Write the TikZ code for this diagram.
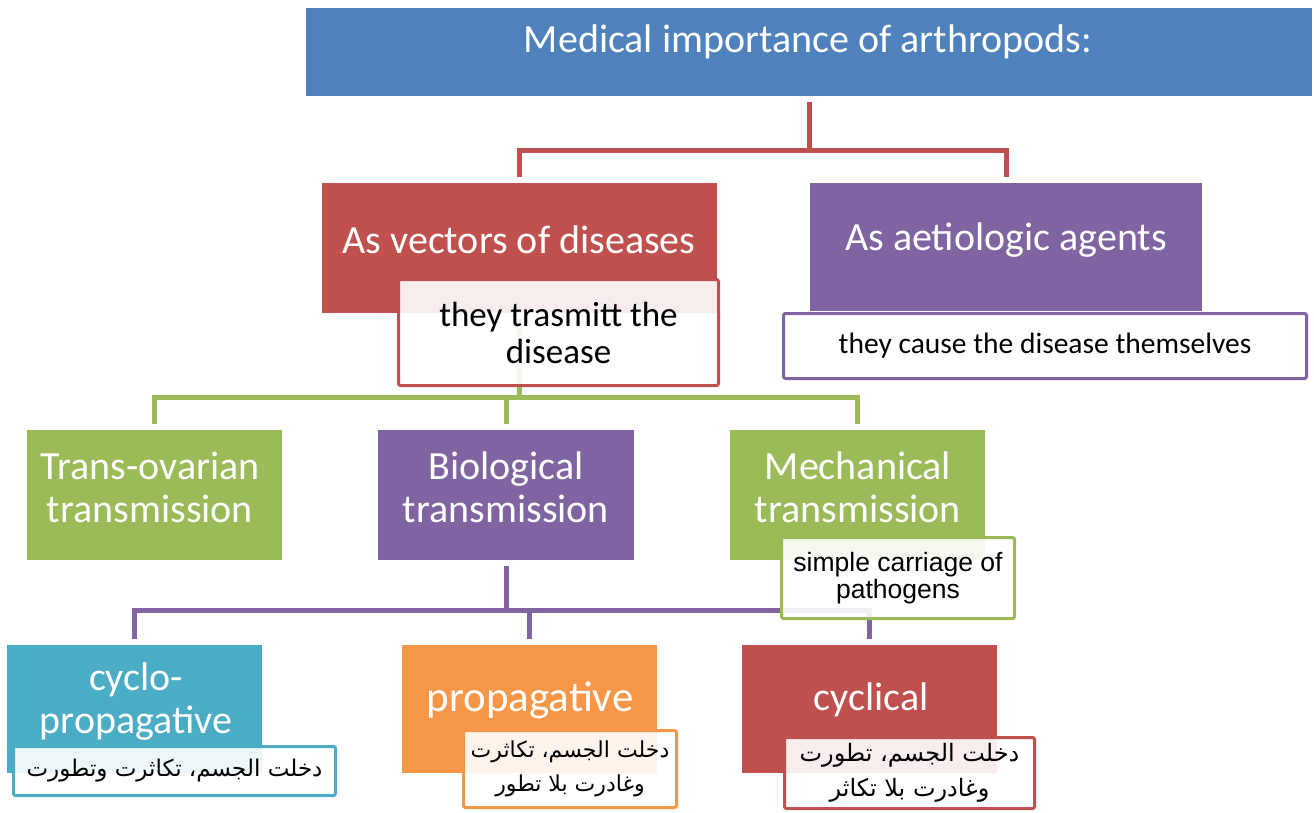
\documentclass[tikz,border=0pt]{standalone}
\usepackage{fontspec}
\setmainfont{Carlito}
\newfontfamily\arialfont{Liberation Sans}
\newfontfamily\arabicfont[Script=Arabic]{DejaVu Sans}
\TeXXeTstate=1
\usepackage{tikz}
\definecolor{hdblue}{HTML}{4F81BD}
\definecolor{vecred}{HTML}{C0504D}
\definecolor{agpurple}{HTML}{8064A2}
\definecolor{trgreen}{HTML}{9BBB59}
\definecolor{cyaqua}{HTML}{4BACC6}
\definecolor{prorange}{HTML}{F79646}
\tikzstyle{box}=[inner sep=0pt, outer sep=0pt]
\tikzstyle{wtext}=[text=white, align=center, inner sep=0pt, font=\fontsize{40}{43}\selectfont]
\tikzstyle{note}=[draw, fill=white, fill opacity=0.9, text opacity=1, line width=3pt, rounded corners=2pt, inner sep=0pt, align=center, text=black]
\tikzstyle{link}=[line width=5pt, shorten <=6pt, shorten >=6pt]

\begin{document}
\begin{tikzpicture}[x=1pt, y=-1pt]
		\useasboundingbox (0,0) rectangle (1314,812);
		% coloured boxes
		\node[box, fill=hdblue, minimum width=1006, minimum height=88] (title) at (809, 52) {};
		\node[box, fill=vecred, minimum width=395, minimum height=130] (vec) at (519.5, 248) {};
		\node[box, fill=agpurple, minimum width=392, minimum height=128] (aet) at (1006, 247) {};
		\node[box, fill=trgreen, minimum width=255, minimum height=130] (trans) at (154.5, 495) {};
		\node[box, fill=agpurple, minimum width=256, minimum height=130] (bio) at (506, 495) {};
		\node[box, fill=trgreen, minimum width=255, minimum height=130] (mech) at (857.5, 495) {};
		\node[box, fill=cyaqua, minimum width=255, minimum height=128] (cyclo) at (134.5, 709) {};
		\node[box, fill=prorange, minimum width=255, minimum height=128] (prop) at (529.5, 709) {};
		\node[box, fill=vecred, minimum width=255, minimum height=128] (cyc) at (869.5, 709) {};
		% connectors
		\draw[link, vecred] (title.south) -- ++(0, 54) -| (vec.north);
		\draw[link, vecred] (title.south) -- ++(0, 54) -| (aet.north);
		\draw[link, trgreen] (vec.south) -- ++(0, 84) -| (trans.north);
		\draw[link, trgreen] (vec.south) -- ++(0, 84) -| (bio.north);
		\draw[link, trgreen] (vec.south) -- ++(0, 84) -| (mech.north);
		\draw[link, agpurple] (bio.south) -- ++(0, 50) -| (cyclo.north);
		\draw[link, agpurple] (bio.south) -- ++(0, 50) -| (prop.north);
		\draw[link, agpurple] (bio.south) -- ++(0, 50) -| (cyc.north);
		% notes
		\node[note, draw=vecred, minimum width=320, minimum height=106, font=\fontsize{35}{37}\selectfont] (vecn) at (558.5, 332.5) {they trasmitt the\\disease};
		\node[note, draw=agpurple, minimum width=523, minimum height=65, font=\fontsize{29.5}{30}\selectfont] (aetn) at (1045, 346) {they cause the disease themselves};
		\node[note, draw=trgreen, minimum width=233, minimum height=81, font=\arialfont\fontsize{26.5}{27}\selectfont] (mechn) at (898, 578) {simple carriage of\\pathogens};
		\node[note, draw=cyaqua, minimum width=322, minimum height=49, font=\arabicfont\fontsize{23}{34}\selectfont] (cyclon) at (174.5, 771) {\beginR دخلت الجسم، تكاثرت وتطورت\endR};
		\node[note, draw=prorange, minimum width=213, minimum height=77, font=\arabicfont\fontsize{22}{34}\selectfont] (propn) at (570, 769) {\beginR دخلت الجسم، تكاثرت\endR\\\beginR وغادرت بلا تطور\endR};
		\node[note, draw=vecred, minimum width=250, minimum height=71, font=\arabicfont\fontsize{24}{35}\selectfont] (cycn) at (909.5, 773) {\beginR دخلت الجسم، تطورت\endR\\\beginR وغادرت بلا تكاثر\endR};
		% labels
		\node[wtext, font=\fontsize{40}{43}\selectfont] (titlet) at (808, 42) {Medical importance of arthropods:};
		\node[wtext] (vect) at (519, 240) {As vectors of diseases};
		\node[wtext] (aett) at (1006, 240) {As aetiologic agents};
		\node[wtext] (transt) at (150, 487) {Trans-ovarian\\transmission};
		\node[wtext] (biot) at (506, 487) {Biological\\transmission};
		\node[wtext] (mecht) at (858, 487) {Mechanical\\transmission};
		\node[wtext] (cyclot) at (136, 702) {cyclo-\\propagative};
		\node[wtext, font=\fontsize{43}{46}\selectfont] (propt) at (530, 700) {propagative};
		\node[wtext] (cyct) at (871, 700) {cyclical};
\end{tikzpicture}
\end{document}
